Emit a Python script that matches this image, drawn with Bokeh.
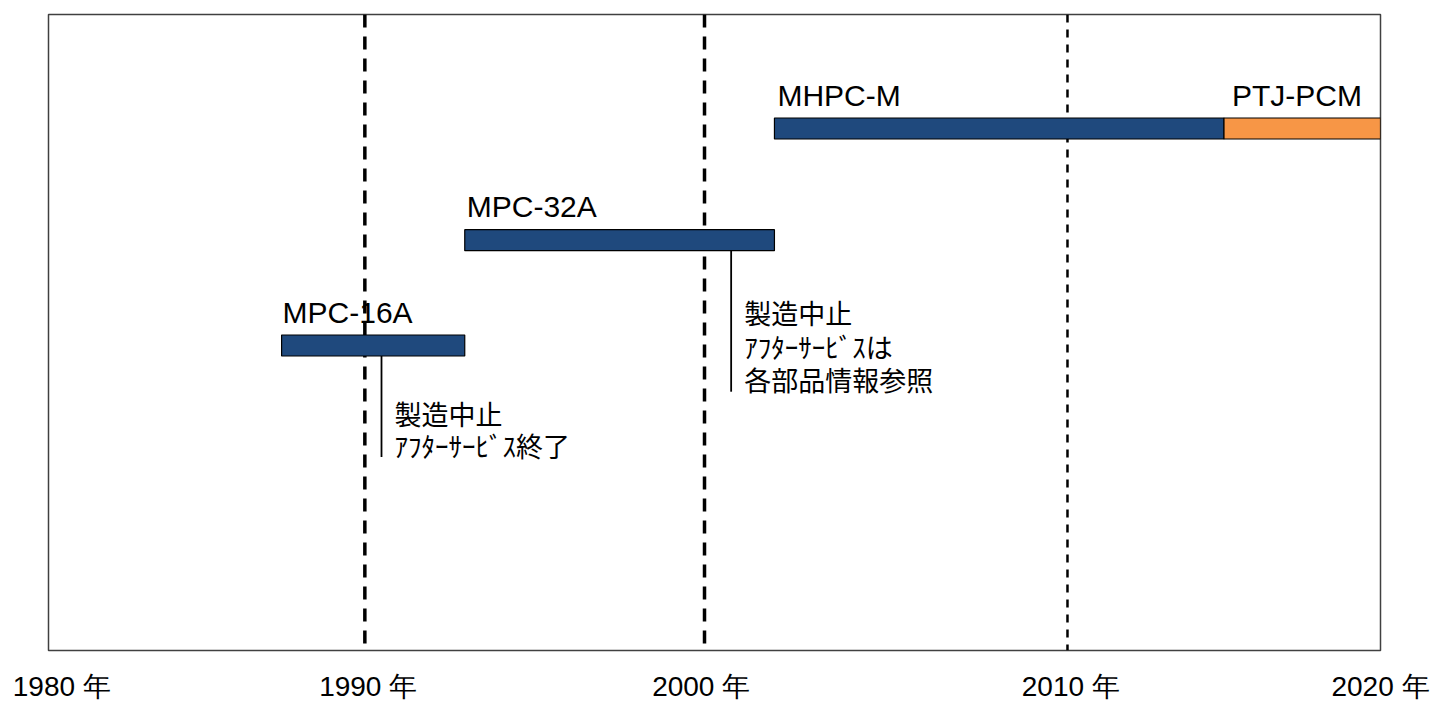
from bokeh.plotting import figure
from bokeh.models import Range1d, FixedTicker, ColumnDataSource
from bokeh.core.properties import value
from bokeh.embed import file_html
from bokeh.resources import INLINE

# ---------------- data ----------------
products = ["MPC-16A", "MPC-32A", "MHPC-M", "PTJ-PCM"]
start_year = [1987.0, 1992.5, 2001.8, 2015.3]
end_year = [1992.5, 2001.8, 2015.3, 2020.0]
product_lane = [0, 1, 2, 2]
product_color = ["#1F497D", "#1F497D", "#1F497D", "#F79646"]

milestone_years = [1989.5, 1999.7, 2010.6]          # dashed vertical lines
tick_years = [1980.4, 1989.6, 1999.6, 2010.7, 2020.0]
tick_labels = ["1980 年", "1990 年", "2000 年", "2010 年", "2020 年"]

note_years = [1990.0, 2000.5]
note_lane = [0, 1]
note_texts = [
    ["製造中止", "ｱﾌﾀｰｻｰﾋﾞｽ終了"],
    ["製造中止", "ｱﾌﾀｰｻｰﾋﾞｽは", "各部品情報参照"],
]

# ---------------- layout (screen-like units on y) ----------------
lane_y = [305, 410.3, 522]
bar_h = 21
label_gap = 23
note_len = [101, 141]
note_first_gap = [57, 62]
note_step = [32, 33.5]
label_dx = [1, 2, 3, 8]

JP = "Noto Sans CJK JP"

p = figure(width=1439, height=704, output_backend="svg", toolbar_location=None,
           x_range=Range1d(1980, 2020), y_range=Range1d(0, 636),
           y_axis_location=None, min_border_left=48, min_border_right=59,
           min_border_top=14, min_border_bottom=54)
p.background_fill_color = "white"
p.border_fill_color = "white"
p.outline_line_color = "#404040"
p.outline_line_width = 1.5
p.xgrid.visible = False
p.ygrid.visible = False

ax = p.xaxis[0]
ax.ticker = FixedTicker(ticks=tick_years)
ax.major_label_overrides = {t: l for t, l in zip(tick_years, tick_labels)}
ax.axis_line_color = None
ax.major_tick_line_color = None
ax.minor_tick_line_color = None
ax.major_tick_out = 0
ax.major_tick_in = 0
ax.minor_tick_out = 0
ax.minor_tick_in = 0
ax.major_label_standoff = 20
ax.major_label_text_font_size = "28px"
ax.major_label_text_font = "Liberation Sans"
ax.major_label_text_color = "black"

# dashed milestone lines (behind the bars)
dash_styles = [("13 9", 3.5), ("13 9", 3.5), ("8 7", 2.5)]
for yr, (dash, w) in zip(milestone_years, dash_styles):
    p.segment(x0=[yr], y0=[636], x1=[yr], y1=[0], line_color="black",
              line_width=w, line_dash=dash)

# bars
bars = ColumnDataSource(dict(
    left=start_year, right=end_year,
    yc=[lane_y[l] for l in product_lane],
    color=product_color, name=products,
    ly=[lane_y[l] + bar_h / 2 + label_gap for l in product_lane],
    dx=label_dx,
))
p.rect(x=[(a + b) / 2 for a, b in zip(start_year, end_year)],
       y=[lane_y[l] for l in product_lane],
       width=[b - a for a, b in zip(start_year, end_year)],
       height=bar_h, fill_color=product_color, line_color="black", line_width=1.2)

p.text(x="left", y="ly", text="name", source=bars, x_offset="dx",
       text_font=value("Liberation Sans"), text_font_size="30px",
       text_color="black", text_baseline="alphabetic", text_align="left")

# notes
for yr, ln, lines, L, g, s in zip(note_years, note_lane, note_texts,
                                  note_len, note_first_gap, note_step):
    bottom = lane_y[ln] - bar_h / 2
    p.segment(x0=[yr], y0=[bottom], x1=[yr], y1=[bottom - L],
              line_color="black", line_width=1.8)
    p.text(x=[yr] * len(lines),
           y=[bottom - g - i * s for i in range(len(lines))],
           text=lines, x_offset=13,
           text_font=value(JP), text_font_size="27px", text_color="black",
           text_baseline="alphabetic", text_align="left")

open("out.html", "w").write(file_html(p, INLINE))
